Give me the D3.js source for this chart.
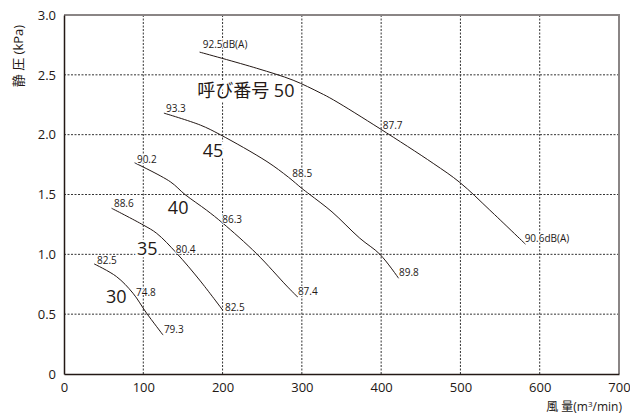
<!DOCTYPE html>
<html><head><meta charset="utf-8">
<script src="https://cdn.jsdelivr.net/npm/d3@7"></script>
<style>body{margin:0;background:#fff}</style>
</head><body>
<svg id="c" width="630" height="418"></svg>
<script>
const xTicks = [0,100,200,300,400,500,600,700];
const yTicks = [0,0.5,1.0,1.5,2.0,2.5,3.0];
// curves: [flow m3/min, static pressure kPa]
const curve50 = [[171,2.69],[243,2.555],[289,2.455],[323,2.35],[340,2.29],[398.5,2.05],[465.7,1.76],[499.4,1.60],[537,1.37],[582,1.085]];
const curve45 = [[126,2.18],[172,2.08],[197,2.0],[256,1.775],[283,1.645],[300,1.551],[310,1.5],[338,1.355],[373,1.135],[398.5,1.0],[422,0.80]];
const curve40 = [[89,1.765],[134,1.607],[152.6,1.5],[180,1.368],[200,1.262],[243,1.005],[281,0.735],[295,0.641]];
const curve35 = [[60,1.385],[100,1.245],[117,1.175],[142,1.01],[171,0.785],[200,0.535]];
const curve30 = [[38,0.92],[66,0.815],[87,0.675],[104,0.51],[125,0.325]];
const curves = [curve50, curve45, curve40, curve35, curve30];
// small noise labels [x, y, text]
const noiseLabels = [
  [175,2.724,"92.5dB(A)"],[402,2.045,"87.7"],[581,1.105,"90.6dB(A)"],
  [128.6,2.19,"93.3"],[288,1.643,"88.5"],[422.5,0.819,"89.8"],
  [92,1.766,"90.2"],[199.6,1.264,"86.3"],[295,0.66,"87.4"],
  [63,1.398,"88.6"],[141,1.014,"80.4"],[203,0.526,"82.5"],
  [41.6,0.919,"82.5"],[90.8,0.652,"74.8"],[126,0.345,"79.3"]
];
const sizeLabels = [[168,2.315,"呼び番号 50"],[175,1.813,"45"],[131,1.335,"40"],[92,0.994,"35"],[53,0.593,"30"]];

const svg = d3.select("#c");
const x = d3.scaleLinear().domain([0,700]).range([64,619]);
const y = d3.scaleLinear().domain([0,3]).range([374,15]);
const font = "'Open Sans','Noto Sans CJK JP',sans-serif";

// gridlines
svg.append("g").selectAll("line").data(xTicks.slice(1,-1)).join("line")
  .attr("x1",d=>x(d)).attr("x2",d=>x(d)).attr("y1",y(0)).attr("y2",y(3))
  .attr("stroke","#333").attr("stroke-width",1).attr("stroke-dasharray","2,1.5");
svg.append("g").selectAll("line").data(yTicks.slice(1,-1)).join("line")
  .attr("x1",x(0)).attr("x2",x(700)).attr("y1",d=>y(d)).attr("y2",d=>y(d))
  .attr("stroke","#333").attr("stroke-width",1).attr("stroke-dasharray","2,1.5");

// frame top/right grey
svg.append("path").attr("d",`M${x(0)},${y(3)}H${x(700)}V${y(0)}`)
  .attr("fill","none").attr("stroke","#8a8585").attr("stroke-width",2);

// axes
const xAxis = svg.append("g").attr("transform",`translate(0,${y(0)})`)
  .call(d3.axisBottom(x).tickValues(xTicks).tickSize(0).tickPadding(9).tickFormat(d3.format("d")));
const yAxis = svg.append("g").attr("transform",`translate(${x(0)},0)`)
  .call(d3.axisLeft(y).tickValues(yTicks).tickSize(0).tickPadding(8).tickFormat(d=>d===0?"0":d.toFixed(1)));
[xAxis,yAxis].forEach(a=>{
  a.select(".domain").attr("stroke","#231815").attr("stroke-width",1.5);
  a.selectAll("text").attr("font-family",font).attr("font-size",13).attr("fill","#231815");
});

// curves
const line = d3.line().x(d=>x(d[0])).y(d=>y(d[1])).curve(d3.curveCatmullRom.alpha(0.5));
svg.append("g").selectAll("path").data(curves).join("path")
  .attr("d",line).attr("fill","none").attr("stroke","#231815").attr("stroke-width",1);

// noise labels
svg.append("g").selectAll("text").data(noiseLabels).join("text")
  .attr("x",d=>x(d[0])).attr("y",d=>y(d[1]))
  .attr("font-family",font).attr("font-size",10).attr("fill","#231815")
  .attr("stroke","#fff").attr("stroke-width",2).attr("paint-order","stroke")
  .text(d=>d[2]);

// size labels
svg.append("g").selectAll("text").data(sizeLabels).join("text")
  .attr("x",d=>x(d[0])).attr("y",d=>y(d[1]))
  .attr("font-family",font).attr("font-size",18).attr("fill","#231815")
  .attr("stroke","#fff").attr("stroke-width",5).attr("paint-order","stroke")
  .text(d=>d[2]);

// axis titles
svg.append("text").attr("transform","translate(23,56) rotate(-90)")
  .attr("text-anchor","middle").attr("font-family",font).attr("font-size",13).attr("fill","#231815")
  .text("静 圧 (kPa)");
const xt = svg.append("text").attr("x",622).attr("y",411).attr("text-anchor","end")
  .attr("font-family",font).attr("font-size",12).attr("fill","#231815");
xt.append("tspan").text("風 量(m");
xt.append("tspan").attr("font-size",8).attr("dy",-4).text("3");
xt.append("tspan").attr("dy",4).text("/min)");
</script>
</body></html>
